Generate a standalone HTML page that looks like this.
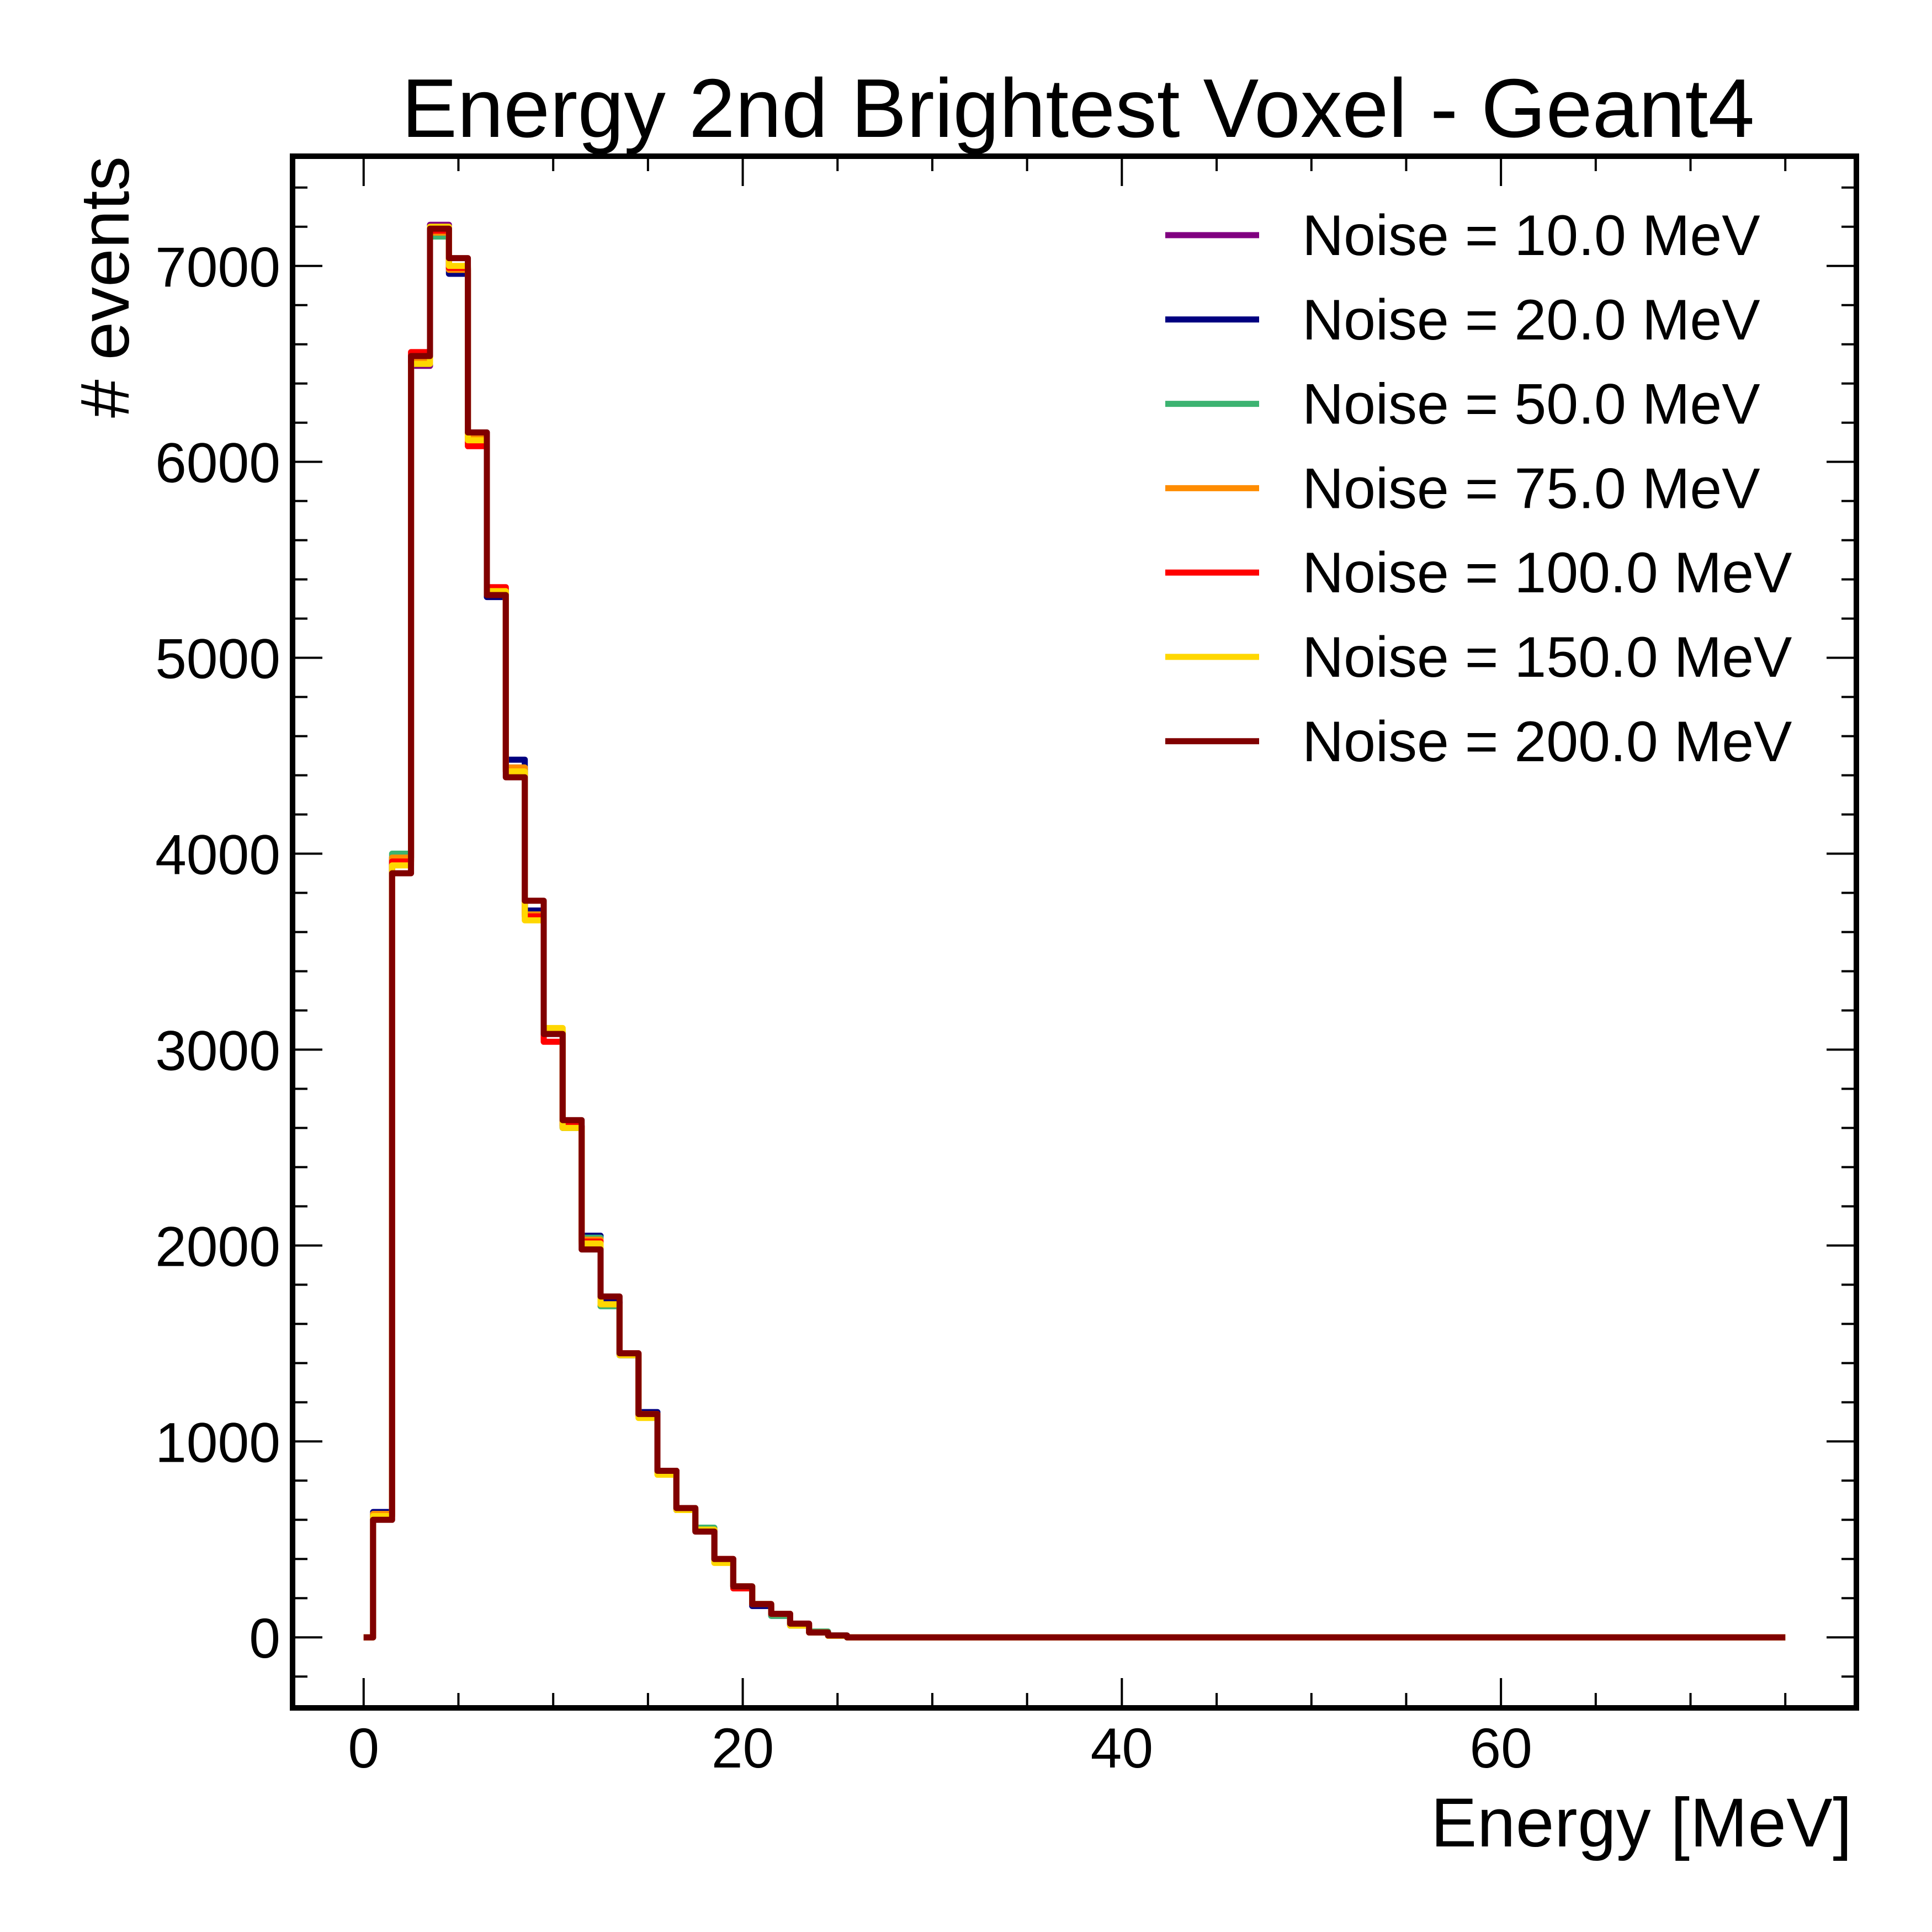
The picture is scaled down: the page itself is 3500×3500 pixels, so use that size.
<!DOCTYPE html>
<html><head><meta charset="utf-8"><style>
html,body{margin:0;padding:0;background:#fff}
svg{display:block}
text{font-family:"Liberation Sans",Arial,sans-serif;fill:#000}
</style></head><body>
<svg id="chart" width="3500" height="3500" viewBox="0 0 3500 3500" xmlns="http://www.w3.org/2000/svg">
<rect x="0" y="0" width="3500" height="3500" fill="#fff"/>
<text x="1953" y="248" font-size="151" text-anchor="middle">Energy 2nd Brightest Voxel - Geant4</text>
<text x="3355" y="3345" font-size="125" text-anchor="end" textLength="763">Energy [MeV]</text>
<text transform="translate(233,283) rotate(-90)" font-size="125" text-anchor="end" textLength="474"># events</text>
<g id="ticks"></g>
<g id="series"></g>
<rect x="530" y="283" width="2833" height="2811" fill="none" stroke="#000" stroke-width="10"/>
<g id="legend"></g>
</svg>
<script>
const seriesLabels = ["Noise = 10.0 MeV","Noise = 20.0 MeV","Noise = 50.0 MeV","Noise = 75.0 MeV","Noise = 100.0 MeV","Noise = 150.0 MeV","Noise = 200.0 MeV"];
const seriesColors = ["#800080","#000080","#3cb371","#ff8c00","#ff0000","#ffd700","#800000"];
const xTicks = [0,20,40,60];
const yTicks = [0,1000,2000,3000,4000,5000,6000,7000];
const noise10  = [0,630,3970,6490,7210,6980,6120,5340,4430,3700,3090,2610,2030,1710,1440,1130,840,650,550,390,260,160,120,60,25,8,0];
const noise20  = [0,640,3980,6500,7190,6960,6120,5310,4480,3710,3080,2600,2050,1710,1440,1150,850,650,550,390,260,160,110,60,25,8,0];
const noise50  = [0,630,4000,6510,7150,6990,6110,5330,4440,3690,3090,2600,2040,1690,1440,1140,850,650,560,390,260,170,110,60,30,10,0];
const noise75  = [0,630,3980,6510,7170,6980,6120,5350,4440,3690,3090,2610,2030,1700,1450,1140,850,660,550,390,260,170,120,60,25,8,0];
const noise100 = [0,620,3960,6560,7180,6990,6080,5360,4420,3680,3040,2610,2020,1700,1450,1130,850,650,550,400,250,170,120,70,25,8,0];
const noise150 = [0,620,3940,6500,7200,7000,6110,5340,4420,3660,3110,2600,2010,1700,1440,1120,830,650,550,380,260,170,120,60,25,8,0];
const noise200 = [0,600,3900,6540,7190,7040,6150,5320,4390,3760,3080,2640,1980,1740,1450,1140,850,660,540,400,260,170,120,70,25,10,0];
const allSeries = [noise10,noise20,noise50,noise75,noise100,noise150,noise200];

const NS = "http://www.w3.org/2000/svg";
const X0 = 530, X1 = 3363, Y0 = 3094, Y1 = 283;
const xMin = -3.75, xMax = 78.75, yMin = -360, yMax = 7560;
function sx(v){ return X0 + (v - xMin) / (xMax - xMin) * (X1 - X0); }
function sy(v){ return Y0 - (v - yMin) / (yMax - yMin) * (Y0 - Y1); }
function mk(tag, attrs){ const e = document.createElementNS(NS, tag); for (const k in attrs) e.setAttribute(k, attrs[k]); return e; }

const edges = [0];
for (let k = 0; k <= 74; k++) edges.push(k + 0.5);
edges.push(75);

const ticks = document.getElementById('ticks');
function tickLine(x1,y1,x2,y2){
  const l = mk('line',{x1:x1,y1:y1,x2:x2,y2:y2,stroke:'#000','stroke-width':4});
  
  
  ticks.appendChild(l);
}
for (let v = 0; v <= 75; v += 5) {
  const x = sx(v); const major = xTicks.indexOf(v) >= 0; const L = major ? 54 : 27;
  tickLine(x, Y0, x, Y0 - L); tickLine(x, Y1, x, Y1 + L);
}
for (let v = -200; v <= 7400; v += 200) {
  const y = sy(v); const major = yTicks.indexOf(v) >= 0; const L = major ? 54 : 27;
  tickLine(X0, y, X0 + L, y); tickLine(X1, y, X1 - L, y);
}
xTicks.forEach(v => {
  const t = mk('text',{x:sx(v), y:3202, 'font-size':102, 'text-anchor':'middle'});
  t.textContent = String(v);
  
  
  ticks.appendChild(t);
});
yTicks.forEach(v => {
  const t = mk('text',{x:508, y:sy(v) + 37, 'font-size':102, 'text-anchor':'end'});
  t.textContent = String(v);
  
  
  ticks.appendChild(t);
});

const sg = document.getElementById('series');
allSeries.forEach((vals, i) => {
  const full = [];
  for (let b = 0; b < edges.length - 1; b++) full.push(b < vals.length ? vals[b] : 0);
  let d = '';
  for (let b = 0; b < full.length; b++) {
    const xa = sx(edges[b]).toFixed(1), xb = sx(edges[b+1]).toFixed(1), y = sy(full[b]).toFixed(1);
    d += (b === 0 ? 'M' : 'L') + xa + ',' + y + 'L' + xb + ',' + y;
  }
  const p = mk('path',{d:d, fill:'none', stroke:seriesColors[i], 'stroke-width':11, 'stroke-linejoin':'round'});
  
  
  sg.appendChild(p);
});

const lg = document.getElementById('legend');
seriesLabels.forEach((lab, i) => {
  const y = 426 + i * 152.8;
  const l = mk('line',{x1:2111, y1:y, x2:2281, y2:y, stroke:seriesColors[i], 'stroke-width':11});
  
  
  lg.appendChild(l);
  const t = mk('text',{x:2359, y:y + 36, 'font-size':104});
  t.textContent = lab;
  
  
  lg.appendChild(t);
});
</script>
</body></html>
